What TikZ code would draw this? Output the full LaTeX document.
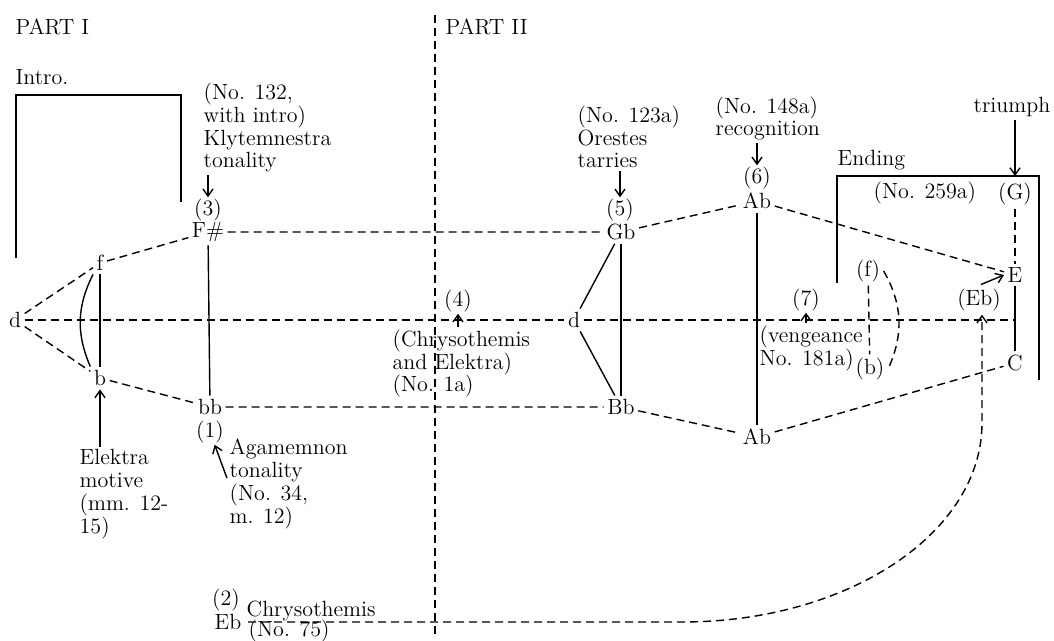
\documentclass[tikz,border=0pt]{standalone}
\usepackage{fontspec}
\usetikzlibrary{arrows.meta}

\tikzset{
  tone/.style={inner sep=1.5pt},
  cue/.style={inner sep=0.5pt},
  note/.style={anchor=base west, align=left, inner sep=0pt},
  dashline/.style={dash pattern=on 4pt off 2.5pt},
  pointer/.style={-{Straight Barb[length=3.5pt,width=5pt]}, shorten <=1pt},
}

\begin{document}
\begin{tikzpicture}[x=0.5pt, y=-0.5pt, line width=0.7pt,
    font=\fontsize{11}{11.4}\selectfont]
  \useasboundingbox (0,0) rectangle (1054,641);

  \node[anchor=base west, inner sep=0pt] (part1) at (15,35) {PART I};
  \node[anchor=base west, inner sep=0pt] (part2) at (445,35) {PART II};
  \node[anchor=base west, inner sep=0pt] (intro) at (15,85) {Intro.};
  \node[anchor=base west, inner sep=0pt] (ending) at (837,166) {Ending};
  \node[anchor=base west, inner sep=0pt] (no259) at (873,199) {(No. 259a)};
  \node[anchor=base, inner sep=0pt] (tri) at (1012,113) {triumph};
  \coordinate (endtop) at (1015,176);
  \draw (16,258) -- (16,95) -- (181,95) -- (181,202);
  \draw (837,283) -- (837,176) -- (1039,176) -- (1039,380);
  \draw[dashline] (435,15) -- (435,635);

  \node[tone] (dl) at (15,320) {d};
  \node[tone] (f) at (100,263) {f};
  \node[tone] (b) at (100,378) {b};
  \node[tone] (fs) at (208,232) {F\#};
  \node[tone] (bb) at (210,407) {bb};
  \node[tone] (dm) at (574,320) {d};
  \node[tone] (gb) at (621,232) {Gb};
  \node[tone] (bbu) at (621,407) {Bb};
  \node[tone] (abu) at (757,201) {Ab};
  \node[tone] (abl) at (757,437) {Ab};
  \node[tone] (g) at (1015,194) {(G)};
  \node[tone] (e) at (1015,275) {E};
  \node[tone] (c) at (1015,363) {C};
  \node[tone] (fp) at (868,271) {(f)};
  \node[tone] (bp) at (870,369) {(b)};
  \node[tone] (ebp) at (979,300) {(Eb)};
  \node[tone] (eb) at (228,622) {Eb};

  \node[cue] (n1) at (210,432) {(1)};
  \node[cue] (n2) at (226,600) {(2)};
  \node[cue] (n3) at (208,210) {(3)};
  \node[cue] (n4) at (458,301) {(4)};
  \node[cue] (n5) at (620,210) {(5)};
  \node[cue] (n6) at (757,178) {(6)};
  \node[cue] (n7) at (806,300) {(7)};

  \node[note] (klyt) at (203,168) {(No. 132,\\with intro)\\Klytemnestra\\tonality};
  \node[note] (elek) at (79,533) {Elektra\\motive\\(mm. 12-\\15)};
  \node[note] (agam) at (229,523) {Agamemnon\\tonality\\(No. 34,\\m. 12)};
  \node[note] (chel) at (392,392) {(Chrysothemis\\and Elektra)\\(No. 1a)};
  \node[note] (ores) at (577,168) {(No. 123a)\\Orestes\\tarries};
  \node[note] (reco) at (715,136) {(No. 148a)\\recognition};
  \node[note] (veng) at (759,365) {(vengeance\\No. 181a)};
  \node[anchor=south west, inner sep=0pt] (chry) at (246,622) {Chrysothemis};
  \node[anchor=base west, inner sep=0pt] (no75) at (248,636) {(No. 75)};

  \draw[dashline] (dl) -- (f) -- (fs) -- (gb) -- (abu) -- (e);
  \draw[dashline] (dl) -- (b) -- (bb) -- (bbu) -- (abl) -- (c);
  \draw[dashline] (dl) -- (dm) -- (dm -| e);
  \draw[dashline] (g) -- (e);
  \draw[dashline] (fp) -- (bp);
  \draw[dashline] (fp.east) to[bend left=27] (bp.east);

  \draw (f) -- (b);
  \draw (f.south west) to[bend right=25] (b.north west);
  \draw (fs) -- (bb);
  \draw (dm) -- (gb);
  \draw (dm) -- (bbu);
  \draw (gb) -- (bbu);
  \draw (abu) -- (abl);
  \draw (e) -- (c);

  \draw[pointer] (klyt.south -| n3) -- (n3);
  \draw[pointer] (ores.south -| n5) -- (n5);
  \draw[pointer] (reco.south -| n6) -- (n6);
  \draw[pointer] (tri.south -| endtop) -- (endtop);
  \draw[pointer] (elek.north -| b) -- (b);
  \draw[pointer, shorten <=3pt] (agam.west) -- (n1);
  \draw[pointer] (chel.north -| n4) -- (n4);
  \draw[pointer] (veng.north -| n7) -- (n7);
  \draw[pointer] (ebp.north) -- (e.west);

  \coordinate (loopa) at (682,622);
  \coordinate (loopb) at (982,423);
  \draw[dashline, pointer] (chry.south west) -- (loopa)
    .. controls (848,622) and (982,533) .. (loopb) -- (ebp.south -| loopb);
\end{tikzpicture}
\end{document}
